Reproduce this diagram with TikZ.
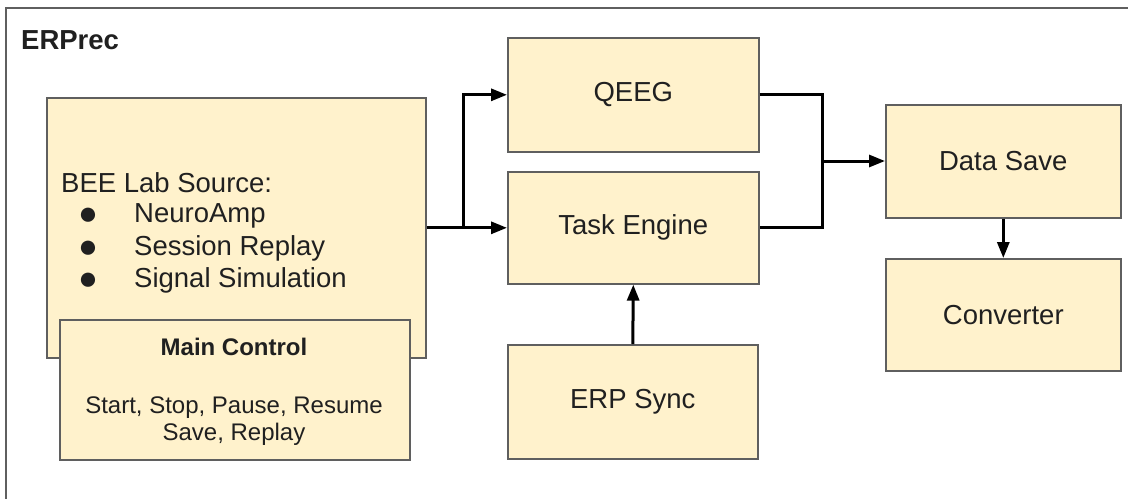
\documentclass[tikz,border=0pt]{standalone}
\usepackage{fontspec}
\setmainfont{Liberation Sans}
\usetikzlibrary{arrows.meta}
\definecolor{boxfill}{HTML}{FFF2CC}
\definecolor{boxline}{HTML}{5F5F5F}
\definecolor{txt}{HTML}{202020}
\begin{document}
\begin{tikzpicture}[x=1pt,y=-1pt,
  box/.style={draw=boxline, fill=boxfill, line width=1.6pt, anchor=north west, inner sep=0pt, text=txt, font=\fontsize{27.5}{31}\selectfont},
  lbl/.style={inner sep=0pt, text=txt, font=\fontsize{27.5}{31}\selectfont},
  bul/.style={inner sep=0pt, text=txt, anchor=base, font=\fontsize{33}{36}\selectfont},
  small/.style={inner sep=0pt, text=txt, font=\fontsize{24}{28}\selectfont},
  conn/.style={line width=3pt, black, -{Triangle[length=16pt,width=12pt]}},
  wire/.style={line width=3pt, black}
]
\useasboundingbox (0,0) rectangle (1128,499);
\fill[white] (0,0) rectangle (1128,499);
% outer frame (only top and left visible)
\draw[draw=boxline, line width=2pt] (1128,8) -- (6,8) -- (6,499);
\node[lbl, font=\bfseries\fontsize{27.5}{31}\selectfont, anchor=base west] (title) at (21,49) {ERPrec};

% source box
\node[box, minimum width=379pt, minimum height=260pt] (src) at (46,97) {};
\node[lbl, anchor=base west] (srct) at (61,192) {BEE Lab Source:};
\node[bul] (b1) at (88,224) {●};
\node[bul] (b2) at (88,257) {●};
\node[bul] (b3) at (88,289) {●};
\node[lbl, anchor=base west] (i1) at (134,222) {NeuroAmp};
\node[lbl, anchor=base west] (i2) at (134,255) {Session Replay};
\node[lbl, anchor=base west] (i3) at (134,287) {Signal Simulation};

% main control
\node[box, minimum width=350pt, minimum height=140pt] (mc) at (59,319) {};
\node[small, font=\bfseries\fontsize{24}{28}\selectfont, anchor=base] (mct) at (234,355) {Main Control};
\node[small, anchor=base] (mc1) at (234,413) {Start, Stop, Pause, Resume};
\node[small, anchor=base] (mc2) at (234,440) {Save, Replay};

% middle column
\node[box, minimum width=251pt, minimum height=114pt] (qeeg) at (507,37) {QEEG};
\node[box, minimum width=251pt, minimum height=112pt] (task) at (507,171) {Task Engine};
\node[box, minimum width=250pt, minimum height=114pt] (erp) at (507,344) {ERP Sync};

% right column
\node[box, minimum width=235pt, minimum height=113pt] (save) at (885,104) {Data Save};
\node[box, minimum width=235pt, minimum height=112pt] (conv) at (885,258) {Converter};

% connectors
\coordinate (j1) at (463,227);
\coordinate (j2) at (822,161);
\draw[conn] (src.east |- task.west) -- (task.west);
\draw[conn] (j1) |- (qeeg.west);
\draw[wire] (qeeg.east) -| (j2 |- task.east) -- (task.east);
\draw[conn] (j2) -- (save.west |- j2);
\draw[conn] (save.south) -- (conv.north);
\draw[conn] (erp.north) -- (task.south);
\end{tikzpicture}
\end{document}
